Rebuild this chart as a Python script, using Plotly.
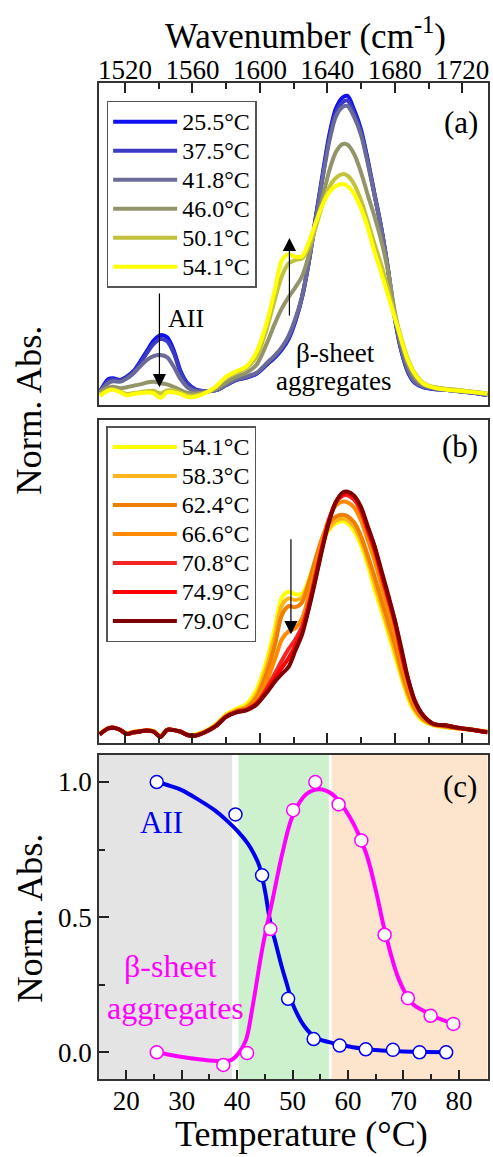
import plotly.graph_objects as go

# ---------------- data ----------------
wavenumber = [1505, 1510, 1513, 1517, 1521, 1525, 1529, 1533, 1537, 1541,
              1545, 1549, 1553, 1557, 1562, 1568, 1574, 1580, 1586, 1592,
              1598, 1604, 1609, 1613, 1617, 1621, 1625, 1629, 1633, 1637,
              1641, 1645, 1649, 1652, 1656, 1660, 1664, 1668, 1672, 1676,
              1680, 1684, 1688, 1692, 1697, 1703, 1710, 1718, 1726, 1735]

spec_25_5 = [0.040, 0.080, 0.083, 0.078, 0.088, 0.105, 0.135, 0.168, 0.200, 0.217,
             0.210, 0.168, 0.105, 0.068, 0.048, 0.043, 0.046, 0.062, 0.078, 0.085,
             0.097, 0.125, 0.148, 0.172, 0.205, 0.260, 0.335, 0.445, 0.580, 0.710,
             0.835, 0.920, 0.955, 0.960, 0.915, 0.855, 0.760, 0.655, 0.550, 0.420,
             0.270, 0.165, 0.100, 0.068, 0.055, 0.050, 0.047, 0.043, 0.038, 0.031]
spec_37_5 = [0.040, 0.076, 0.080, 0.076, 0.086, 0.102, 0.130, 0.162, 0.190, 0.205,
             0.198, 0.160, 0.100, 0.065, 0.047, 0.043, 0.046, 0.062, 0.078, 0.085,
             0.098, 0.126, 0.150, 0.175, 0.208, 0.262, 0.335, 0.443, 0.575, 0.703,
             0.825, 0.908, 0.940, 0.945, 0.905, 0.847, 0.755, 0.652, 0.548, 0.420,
             0.272, 0.168, 0.102, 0.070, 0.056, 0.050, 0.047, 0.043, 0.038, 0.031]
spec_41_8 = [0.040, 0.068, 0.074, 0.072, 0.082, 0.098, 0.120, 0.140, 0.152, 0.155,
             0.148, 0.118, 0.080, 0.055, 0.043, 0.042, 0.046, 0.063, 0.080, 0.088,
             0.100, 0.130, 0.155, 0.180, 0.215, 0.268, 0.338, 0.445, 0.572, 0.698,
             0.815, 0.895, 0.925, 0.928, 0.893, 0.838, 0.750, 0.650, 0.548, 0.422,
             0.275, 0.172, 0.106, 0.072, 0.057, 0.051, 0.047, 0.043, 0.038, 0.032]
spec_46_0 = [0.040, 0.055, 0.057, 0.052, 0.055, 0.060, 0.064, 0.070, 0.072, 0.068,
             0.064, 0.056, 0.046, 0.038, 0.036, 0.040, 0.050, 0.070, 0.088, 0.100,
             0.125, 0.190, 0.255, 0.300, 0.335, 0.365, 0.400, 0.465, 0.555, 0.640,
             0.725, 0.785, 0.810, 0.808, 0.778, 0.722, 0.652, 0.585, 0.510, 0.415,
             0.290, 0.190, 0.125, 0.085, 0.063, 0.055, 0.050, 0.046, 0.041, 0.035]
spec_50_1 = [0.032, 0.046, 0.049, 0.042, 0.034, 0.037, 0.040, 0.043, 0.044, 0.036,
             0.045, 0.045, 0.038, 0.030, 0.030, 0.039, 0.056, 0.085, 0.100, 0.115,
             0.150, 0.235, 0.330, 0.400, 0.440, 0.450, 0.455, 0.490, 0.550, 0.620,
             0.675, 0.705, 0.717, 0.712, 0.685, 0.635, 0.570, 0.500, 0.435, 0.360,
             0.280, 0.205, 0.140, 0.098, 0.068, 0.056, 0.050, 0.046, 0.041, 0.036]
spec_54_1 = [0.028, 0.045, 0.047, 0.040, 0.030, 0.034, 0.037, 0.039, 0.036, 0.022,
             0.040, 0.039, 0.034, 0.025, 0.026, 0.038, 0.058, 0.088, 0.105, 0.120,
             0.165, 0.255, 0.360, 0.450, 0.468, 0.460, 0.462, 0.505, 0.565, 0.620,
             0.660, 0.680, 0.686, 0.680, 0.655, 0.610, 0.550, 0.475, 0.410, 0.340,
             0.270, 0.200, 0.135, 0.095, 0.066, 0.054, 0.048, 0.044, 0.040, 0.035]
spec_58_3 = [0.027, 0.045, 0.047, 0.040, 0.029, 0.033, 0.036, 0.038, 0.035, 0.020,
             0.040, 0.039, 0.034, 0.025, 0.024, 0.036, 0.055, 0.085, 0.100, 0.112,
             0.150, 0.235, 0.335, 0.425, 0.447, 0.442, 0.450, 0.500, 0.565, 0.625,
             0.665, 0.688, 0.695, 0.690, 0.668, 0.625, 0.565, 0.495, 0.425, 0.355,
             0.285, 0.210, 0.145, 0.100, 0.070, 0.055, 0.049, 0.044, 0.040, 0.034]
spec_62_4 = [0.027, 0.045, 0.047, 0.040, 0.028, 0.033, 0.036, 0.038, 0.035, 0.019,
             0.040, 0.039, 0.034, 0.025, 0.023, 0.035, 0.054, 0.083, 0.098, 0.108,
             0.140, 0.215, 0.305, 0.395, 0.423, 0.420, 0.435, 0.495, 0.570, 0.635,
             0.680, 0.700, 0.706, 0.702, 0.682, 0.640, 0.580, 0.515, 0.445, 0.375,
             0.305, 0.225, 0.155, 0.105, 0.073, 0.056, 0.050, 0.044, 0.040, 0.033]
spec_66_6 = [0.026, 0.044, 0.046, 0.040, 0.028, 0.032, 0.035, 0.038, 0.035, 0.019,
             0.040, 0.039, 0.034, 0.024, 0.023, 0.035, 0.053, 0.082, 0.096, 0.104,
             0.130, 0.190, 0.260, 0.320, 0.345, 0.355, 0.385, 0.455, 0.545, 0.630,
             0.695, 0.735, 0.747, 0.745, 0.728, 0.688, 0.628, 0.565, 0.490, 0.415,
             0.340, 0.250, 0.172, 0.115, 0.078, 0.057, 0.052, 0.045, 0.040, 0.033]
spec_70_8 = [0.026, 0.044, 0.046, 0.040, 0.027, 0.032, 0.035, 0.038, 0.034, 0.018,
             0.040, 0.039, 0.034, 0.024, 0.022, 0.034, 0.052, 0.081, 0.095, 0.102,
             0.122, 0.168, 0.215, 0.255, 0.290, 0.320, 0.360, 0.430, 0.520, 0.610,
             0.690, 0.745, 0.765, 0.767, 0.752, 0.715, 0.655, 0.595, 0.520, 0.445,
             0.370, 0.272, 0.190, 0.125, 0.083, 0.058, 0.053, 0.046, 0.040, 0.032]
spec_74_9 = [0.026, 0.044, 0.046, 0.040, 0.027, 0.032, 0.035, 0.038, 0.034, 0.018,
             0.040, 0.039, 0.034, 0.024, 0.022, 0.034, 0.052, 0.081, 0.095, 0.102,
             0.122, 0.160, 0.200, 0.232, 0.262, 0.300, 0.345, 0.420, 0.512, 0.605,
             0.688, 0.745, 0.770, 0.773, 0.760, 0.724, 0.664, 0.603, 0.528, 0.453,
             0.378, 0.280, 0.195, 0.128, 0.084, 0.058, 0.054, 0.046, 0.040, 0.032]
spec_79_0 = [0.026, 0.044, 0.046, 0.040, 0.027, 0.032, 0.035, 0.038, 0.034, 0.018,
             0.040, 0.039, 0.034, 0.024, 0.022, 0.034, 0.052, 0.080, 0.094, 0.100,
             0.118, 0.155, 0.190, 0.213, 0.235, 0.285, 0.335, 0.415, 0.505, 0.600,
             0.685, 0.745, 0.775, 0.778, 0.765, 0.730, 0.670, 0.610, 0.535, 0.460,
             0.380, 0.290, 0.195, 0.128, 0.083, 0.058, 0.054, 0.046, 0.040, 0.032]

labels_a = ["25.5°C", "37.5°C", "41.8°C", "46.0°C", "50.1°C", "54.1°C"]
colors_a = ["#1010f2", "#3a3ac2", "#6b6b99", "#94946b", "#c2c23d", "#ffff00"]
labels_b = ["54.1°C", "58.3°C", "62.4°C", "66.6°C", "70.8°C", "74.9°C", "79.0°C"]
colors_b = ["#ffff00", "#fdb41c", "#ef7d00", "#ff8a00", "#f52525", "#ff0000", "#800000"]

# panel (c)
temp_aii = [25.5, 39.7, 44.5, 49.2, 53.8, 58.5, 63.2, 68.1, 72.9, 77.7]
abs_aii = [1.0, 0.88, 0.655, 0.198, 0.049, 0.025, 0.011, 0.009, 0.0, 0.0]
temp_beta = [25.5, 37.5, 41.8, 46.0, 50.1, 54.1, 58.3, 62.4, 66.6, 70.8, 74.9, 79.0]
abs_beta = [0.0, -0.047, -0.003, 0.456, 0.896, 1.0, 0.917, 0.784, 0.435, 0.2, 0.135, 0.105]

fit_aii_t = [25.5, 28, 30, 33, 36, 38, 40, 42, 43, 44, 45, 46, 47, 48, 49, 50, 51, 52,
             53.5, 55, 57.5, 60, 63, 66, 70, 74, 77.7]
fit_aii = [1.0, 0.985, 0.97, 0.935, 0.895, 0.86, 0.82, 0.77, 0.735, 0.69, 0.60, 0.48, 0.40,
           0.32, 0.25, 0.18, 0.135, 0.10, 0.065, 0.047, 0.033, 0.022, 0.012, 0.007, 0.003,
           0.001, 0.0]
fit_beta_t = [25.5, 28, 31, 34, 37, 39, 40.4, 41.6, 42.8, 44.6, 46.4, 48.2, 50, 52.4, 54.8,
              57.2, 60.2, 63.2, 65, 66.8, 69.2, 71.6, 73.5, 75.2, 77, 79.2]
fit_beta = [0.0, -0.01, -0.02, -0.028, -0.032, -0.028, 0.0, 0.046, 0.17, 0.39, 0.565, 0.74,
            0.874, 0.954, 0.973, 0.954, 0.874, 0.74, 0.60, 0.435, 0.268, 0.18, 0.155, 0.135,
            0.12, 0.105]

zones = [(15.0, 39.1, "#e4e4e4"), (40.25, 56.55, "#cdf1cd"), (57.05, 85.2, "#fde4cc")]

# ---------------- figure ----------------
W, H = 493, 1157
FONT = "Liberation Serif, Times New Roman, Tinos, DejaVu Serif, serif"
fig = go.Figure()

spectra_a = [spec_25_5, spec_37_5, spec_41_8, spec_46_0, spec_50_1, spec_54_1]
spectra_b = [spec_54_1, spec_58_3, spec_62_4, spec_66_6, spec_70_8, spec_74_9, spec_79_0]


def leg_name(t):
    return '<span style="font-size:24px">' + t + '</span>'


for ys, lab, col in zip(spectra_a, labels_a, colors_a):
    fig.add_trace(go.Scatter(x=wavenumber, y=ys, mode="lines", name=leg_name(lab),
                             line=dict(color=col, width=4, shape="spline", smoothing=0.8),
                             xaxis="x", yaxis="y", legend="legend"))
for ys, lab, col in zip(spectra_b, labels_b, colors_b):
    fig.add_trace(go.Scatter(x=wavenumber, y=ys, mode="lines", name=leg_name(lab),
                             line=dict(color=col, width=4, shape="spline", smoothing=0.8),
                             xaxis="x2", yaxis="y2", legend="legend2"))

fig.add_trace(go.Scatter(x=fit_aii_t, y=fit_aii, mode="lines", showlegend=False,
                         line=dict(color="#0000ee", width=4, shape="spline"),
                         xaxis="x3", yaxis="y3"))
fig.add_trace(go.Scatter(x=fit_beta_t, y=fit_beta, mode="lines", showlegend=False,
                         line=dict(color="#ff00ff", width=4, shape="spline"),
                         xaxis="x3", yaxis="y3"))
fig.add_trace(go.Scatter(x=temp_aii, y=abs_aii, mode="markers", showlegend=False,
                         marker=dict(size=13, color="white", line=dict(color="#0000ee", width=1.5)),
                         xaxis="x3", yaxis="y3"))
fig.add_trace(go.Scatter(x=temp_beta, y=abs_beta, mode="markers", showlegend=False,
                         marker=dict(size=13, color="white", line=dict(color="#ff00ff", width=1.5)),
                         xaxis="x3", yaxis="y3"))

xdom = [98.5 / W, 489.5 / W]


def ydom(top, bottom):
    return [1 - bottom / H, 1 - top / H]


axline = dict(showline=True, linecolor="#333333", linewidth=1.5, mirror=True,
              showgrid=False, zeroline=False)
tickfont = dict(family=FONT, size=27, color="black")

fig.update_layout(
    width=W, height=H, margin=dict(l=0, r=0, t=0, b=0),
    paper_bgcolor="white", plot_bgcolor="white",
    font=dict(family=FONT, color="black"),
    xaxis=dict(domain=xdom, anchor="y", side="top", range=[1504.5, 1735],
               tickmode="linear", tick0=1520, dtick=40, ticks="inside", ticklen=10,
               tickwidth=1.5, tickcolor="#222", tickfont=tickfont, ticklabelstandoff=-9,
               minor=dict(dtick=20, tick0=1520, ticks="inside", ticklen=6, tickwidth=1.5, tickcolor="#222"),
               **axline),
    yaxis=dict(domain=ydom(83, 405), anchor="x", range=[0, 1], showticklabels=False,
               ticks="", **axline),
    xaxis2=dict(domain=xdom, anchor="y2", matches="x", range=[1504.5, 1735],
                tickmode="linear", tick0=1520, dtick=40, ticks="inside", ticklen=10,
                tickwidth=1.5, tickcolor="#222", showticklabels=False,
                minor=dict(dtick=20, tick0=1520, ticks="inside", ticklen=6, tickwidth=1.5, tickcolor="#222"),
                **axline),
    yaxis2=dict(domain=ydom(420, 742.7), anchor="x2", range=[0, 1], showticklabels=False,
                ticks="", **axline),
    xaxis3=dict(domain=xdom, anchor="y3", range=[15.07, 85.16],
                tickmode="linear", tick0=20, dtick=10, ticks="inside", ticklen=10,
                tickwidth=1.5, tickcolor="#222", tickfont=tickfont, ticklabelstandoff=-3,
                minor=dict(dtick=5, tick0=20, ticks="inside", ticklen=6, tickwidth=1.5, tickcolor="#222"),
                **axline),
    yaxis3=dict(domain=ydom(755, 1079.3), anchor="x3", range=[-0.1, 1.1],
                tickmode="array", tickvals=[0, 0.5, 1.0], ticktext=["0.0", "0.5", "1.0"],
                ticks="inside", ticklen=10, tickwidth=1.5, tickcolor="#222", tickfont=tickfont,
                minor=dict(tickvals=[0.25, 0.75], ticks="inside", ticklen=6, tickwidth=1.5, tickcolor="#222"),
                **axline),
    legend=dict(x=106.3 / W, y=1 - 100.7 / H, xanchor="left", yanchor="top",
                bgcolor="white", bordercolor="#555", borderwidth=1.5,
                font=dict(family=FONT, size=20, color="black"), itemwidth=64,
                tracegroupgap=0),
    legend2=dict(x=106 / W, y=1 - 426 / H, xanchor="left", yanchor="top",
                 bgcolor="white", bordercolor="#555", borderwidth=1.5,
                 font=dict(family=FONT, size=20, color="black"), itemwidth=64,
                 tracegroupgap=0),
)

shapes = []
for x0, x1, c in zones:
    shapes.append(dict(type="rect", xref="x3", yref="y3 domain", x0=x0, x1=x1, y0=0, y1=1,
                       fillcolor=c, line=dict(width=0), layer="below"))
fig.update_layout(shapes=shapes)

ann = []


def ptxt(text, x, y, size, color="black", angle=0):
    ann.append(dict(text=text, x=x / W, y=1 - y / H, xref="paper", yref="paper",
                    showarrow=False, font=dict(family=FONT, size=size, color=color),
                    textangle=angle, xanchor="center", yanchor="middle"))


# titles
ptxt("Wavenumber (cm<sup>-1</sup>)", 306, 33, 35)
ptxt("Temperature (°C)", 302, 1134, 36)
ptxt("Norm. Abs.", 28, 410, 36.5, angle=-90)
ptxt("Norm. Abs.", 28, 918, 36.5, angle=-90)
# panel labels
ptxt("(a)", 462.7, 123, 31)
ptxt("(b)", 461.7, 446.7, 31)
ptxt("(c)", 461.7, 786.7, 31)


def dtxt(text, x, y, xr, yr, size, color="black"):
    ann.append(dict(text=text, x=x, y=y, xref=xr, yref=yr, showarrow=False,
                    font=dict(family=FONT, size=size, color=color),
                    xanchor="center", yanchor="middle"))


dtxt("AII", 1556.0, 0.268, "x", "y", 26)
dtxt("β-sheet", 1645.0, 0.160, "x", "y", 27)
dtxt("aggregates", 1643.5, 0.075, "x", "y", 27)
dtxt("AII", 26.4, 0.85, "x3", "y3", 31, "#0000ee")
dtxt("β-sheet", 28.0, 0.318, "x3", "y3", 32, "#ff00ff")
dtxt("aggregates", 28.8, 0.163, "x3", "y3", 32, "#ff00ff")


def arrow(x, y_tail, y_tip, xr, yr):
    ann.append(dict(text="", x=x, y=y_tip, ax=x, ay=y_tail, xref=xr, yref=yr,
                    axref=xr, ayref=yr, showarrow=True, arrowhead=2, arrowsize=2.2,
                    arrowwidth=1.2, arrowcolor="black"))


arrow(1540.4, 0.351, 0.055, "x", "y")
arrow(1617.5, 0.273, 0.519, "x", "y")
arrow(1618.4, 0.635, 0.336, "x2", "y2")

fig.update_layout(annotations=ann)

fig.write_html("out.html")
